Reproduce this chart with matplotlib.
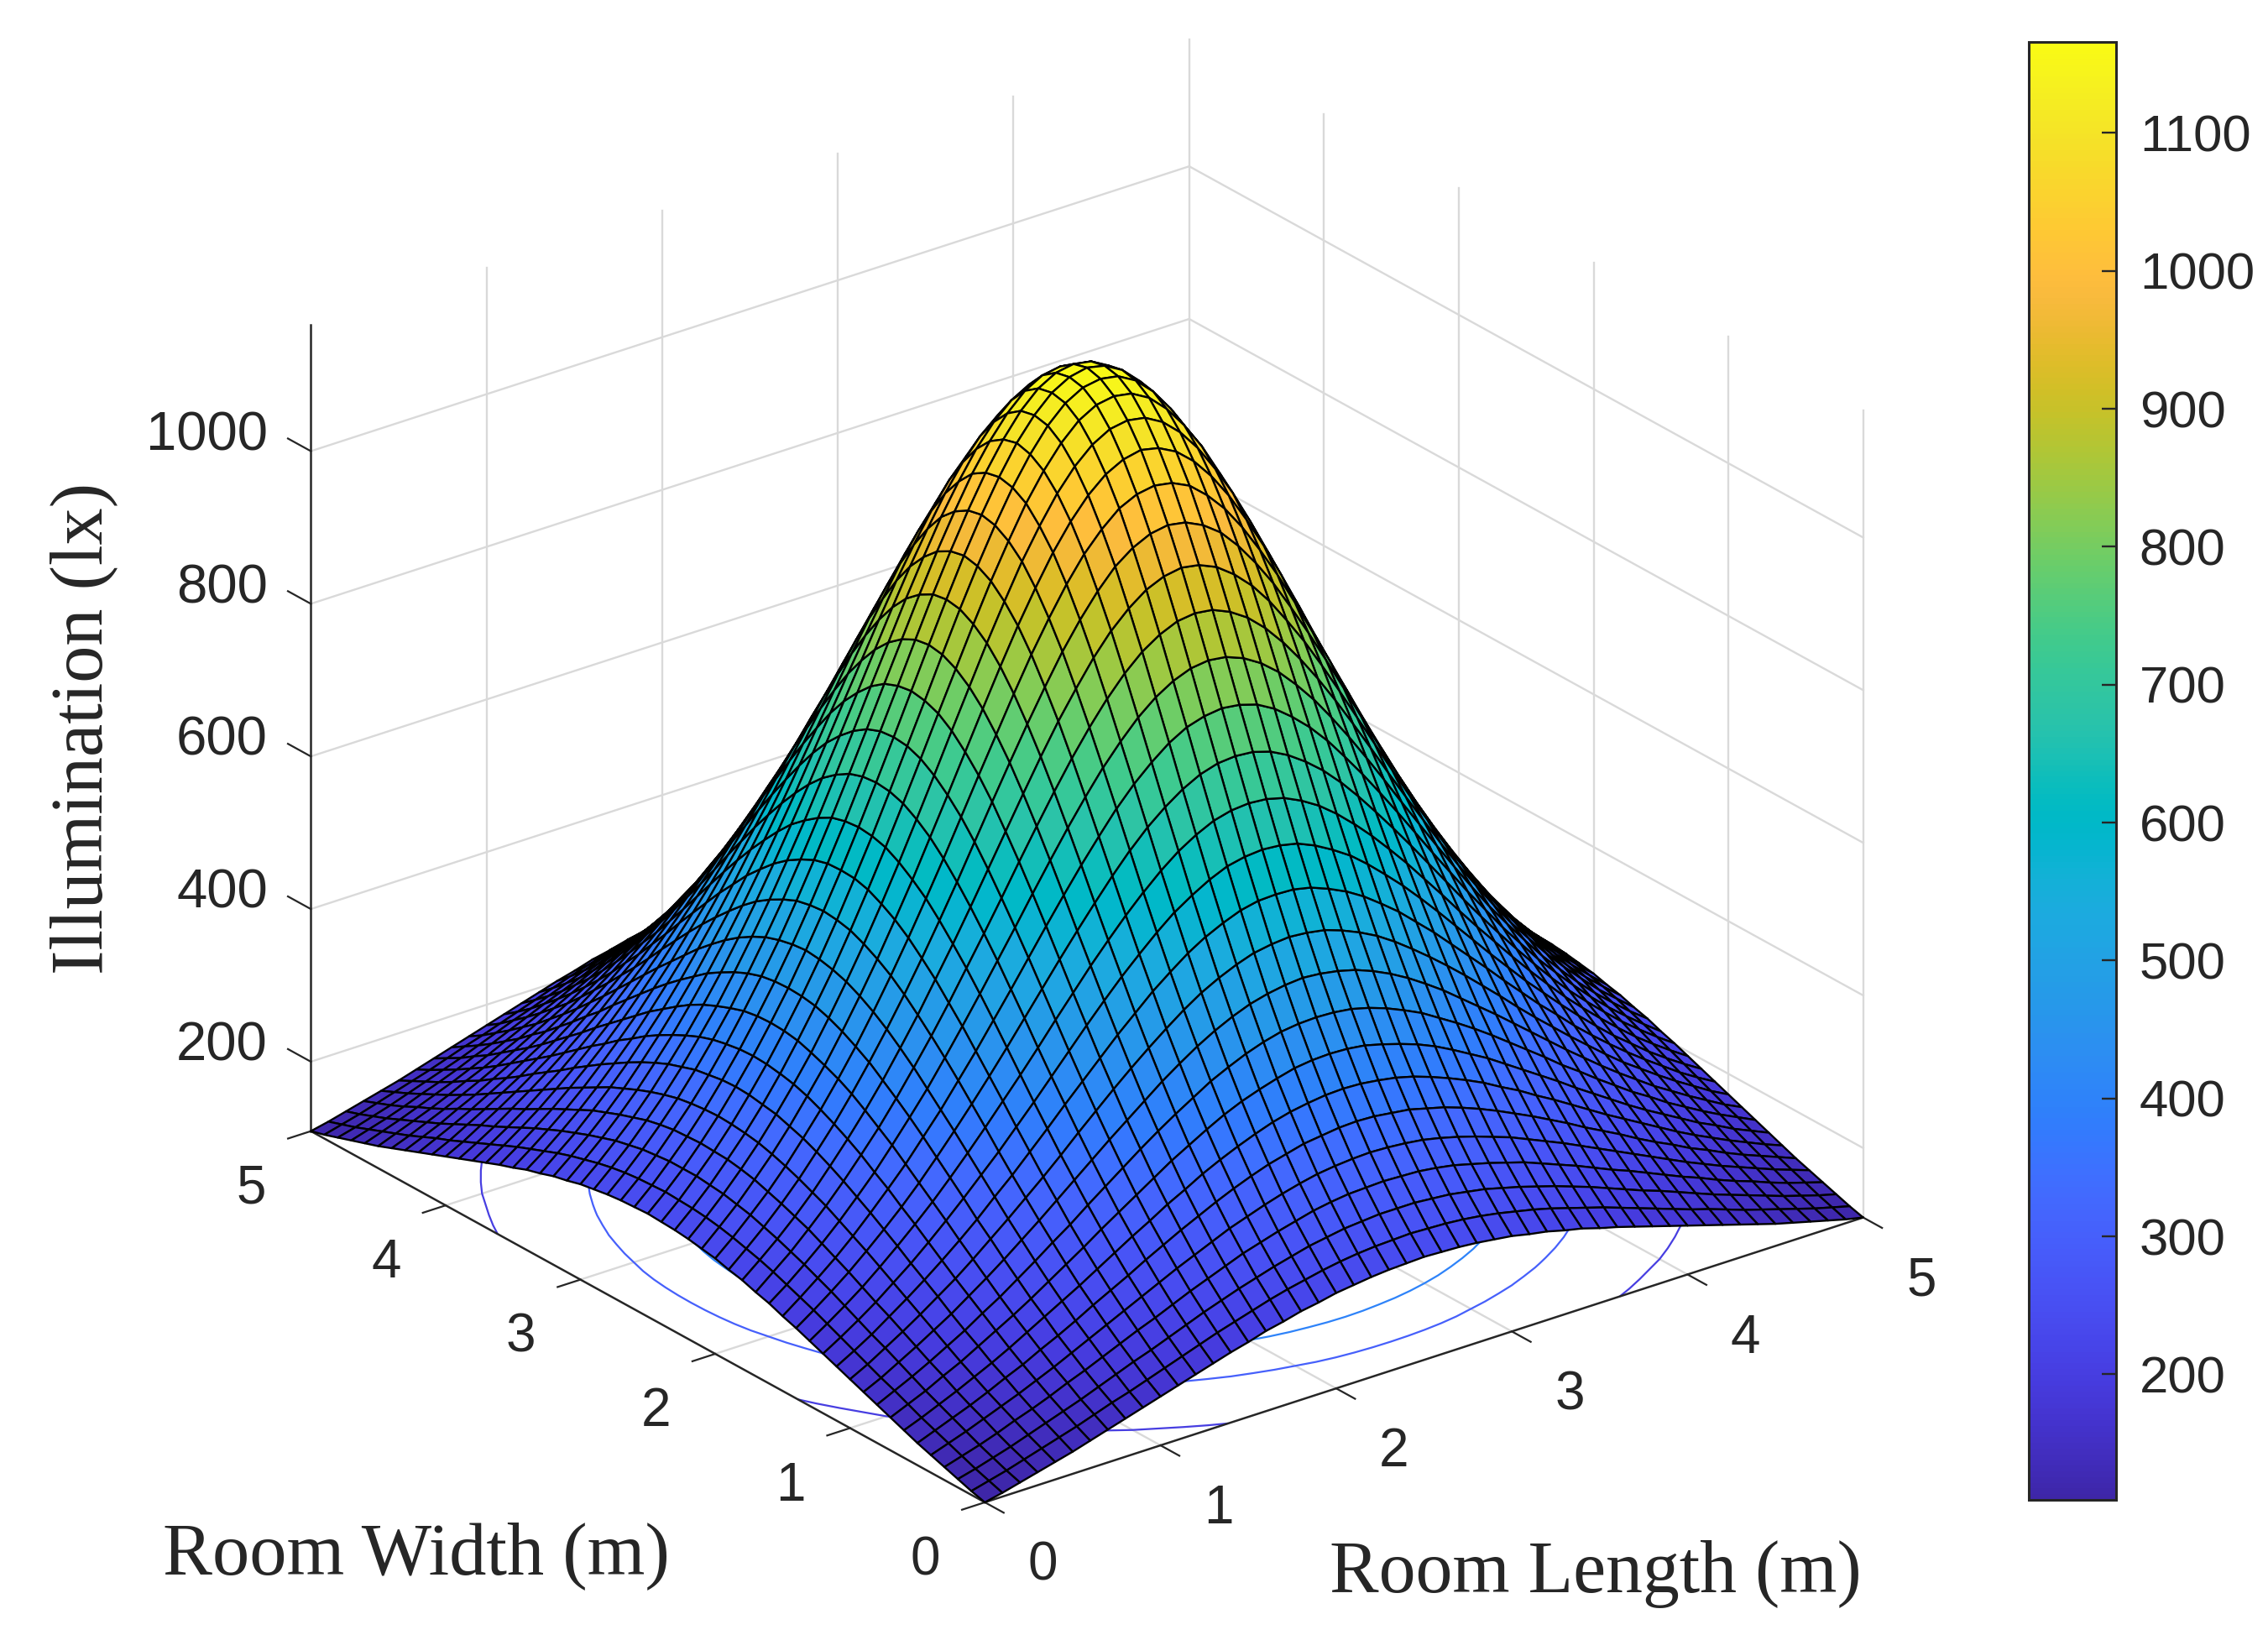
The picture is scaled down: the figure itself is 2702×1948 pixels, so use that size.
import numpy as np
from matplotlib import pyplot as plt
from matplotlib.cm import ScalarMappable
from matplotlib.colors import LinearSegmentedColormap, Normalize

# illumination in lx (silhouette, colours, floor arcs).
# The surface looks symmetric, so only one octant from the room centre is typed:
# row i holds the cells j = i..25, counted in 0.1 m steps from the centre.
octant_rows = [
    [1166, 1161, 1148, 1126, 1097, 1060, 1018, 972, 922, 870, 817, 764, 712, 661, 612, 566, 522, 480, 442, 406, 373, 342, 314, 288, 265, 244],
    [1157, 1144, 1122, 1092, 1056, 1014, 968, 919, 867, 814, 762, 710, 659, 611, 564, 520, 479, 441, 405, 372, 341, 313, 288, 264, 243],
    [1131, 1109, 1080, 1045, 1003, 958, 909, 858, 807, 755, 704, 654, 606, 560, 516, 476, 438, 402, 369, 339, 312, 286, 263, 242],
    [1088, 1060, 1025, 986, 941, 894, 844, 794, 743, 693, 644, 597, 552, 510, 470, 432, 398, 366, 336, 309, 284, 261, 240],
    [1033, 1000, 961, 919, 873, 825, 776, 727, 679, 631, 586, 542, 501, 462, 425, 392, 360, 331, 305, 280, 258, 237],
    [968, 931, 891, 847, 801, 755, 708, 661, 616, 572, 530, 490, 452, 417, 384, 354, 325, 299, 276, 254, 234],
    [897, 858, 817, 774, 730, 685, 640, 597, 555, 515, 477, 441, 407, 375, 346, 318, 293, 270, 249, 229],
    [823, 784, 743, 701, 659, 617, 576, 537, 498, 462, 427, 395, 365, 337, 310, 286, 264, 244, 225],
    [748, 710, 671, 631, 592, 554, 516, 480, 446, 413, 382, 354, 327, 302, 279, 257, 238, 219],
    [675, 639, 602, 566, 530, 495, 461, 428, 398, 369, 341, 316, 292, 270, 250, 231, 214],
    [606, 572, 538, 505, 472, 441, 410, 382, 354, 329, 305, 282, 261, 242, 224, 207],
    [541, 510, 479, 449, 420, 392, 365, 339, 315, 293, 272, 252, 234, 217, 201],
    [481, 453, 426, 399, 373, 348, 324, 302, 281, 261, 242, 225, 209, 194],
    [427, 402, 377, 354, 331, 309, 288, 268, 250, 232, 216, 201, 187],
    [379, 356, 335, 313, 293, 274, 256, 239, 223, 207, 193, 180],
    [336, 316, 297, 278, 260, 244, 228, 213, 199, 185, 173],
    [298, 280, 263, 247, 231, 217, 203, 190, 177, 166],
    [264, 248, 234, 219, 206, 193, 181, 170, 159],
    [234, 221, 208, 195, 184, 172, 162, 152],
    [208, 196, 185, 174, 164, 154, 145],
    [186, 175, 165, 156, 147, 138],
    [166, 157, 148, 140, 132],
    [148, 140, 133, 126],
    [133, 126, 120],
    [120, 114],
    [109],
]

room_ticks = [0, 1, 2, 3, 4, 5]
z_ticks = [200, 400, 600, 800, 1000]
cbar_ticks = [200, 300, 400, 500, 600, 700, 800, 900, 1000, 1100]
contour_levels = [200, 300, 400, 600, 800, 1000]
z_min = 109
z_max = 1166

parula_colors = [
    (0.2422, 0.1504, 0.6603), (0.2504, 0.1650, 0.7076), (0.2578, 0.1818, 0.7511), (0.2647, 0.1978, 0.7952),
    (0.2706, 0.2147, 0.8364), (0.2751, 0.2342, 0.8710), (0.2783, 0.2559, 0.8991), (0.2803, 0.2782, 0.9221),
    (0.2813, 0.3006, 0.9414), (0.2810, 0.3228, 0.9579), (0.2795, 0.3447, 0.9717), (0.2760, 0.3667, 0.9829),
    (0.2699, 0.3892, 0.9906), (0.2602, 0.4123, 0.9952), (0.2440, 0.4358, 0.9988), (0.2206, 0.4603, 0.9973),
    (0.1963, 0.4847, 0.9892), (0.1834, 0.5074, 0.9798), (0.1786, 0.5289, 0.9682), (0.1764, 0.5499, 0.9520),
    (0.1687, 0.5703, 0.9359), (0.1540, 0.5902, 0.9218), (0.1460, 0.6091, 0.9079), (0.1380, 0.6276, 0.8973),
    (0.1248, 0.6459, 0.8883), (0.1113, 0.6635, 0.8763), (0.0952, 0.6798, 0.8598), (0.0689, 0.6948, 0.8394),
    (0.0297, 0.7082, 0.8163), (0.0036, 0.7203, 0.7917), (0.0067, 0.7312, 0.7660), (0.0433, 0.7411, 0.7394),
    (0.0964, 0.7500, 0.7120), (0.1408, 0.7584, 0.6842), (0.1717, 0.7670, 0.6554), (0.1938, 0.7758, 0.6251),
    (0.2161, 0.7843, 0.5923), (0.2470, 0.7918, 0.5567), (0.2906, 0.7973, 0.5188), (0.3406, 0.8008, 0.4789),
    (0.3909, 0.8029, 0.4354), (0.4456, 0.8024, 0.3909), (0.5044, 0.7993, 0.3480), (0.5616, 0.7942, 0.3045),
    (0.6174, 0.7876, 0.2612), (0.6720, 0.7793, 0.2227), (0.7242, 0.7698, 0.1910), (0.7738, 0.7598, 0.1646),
    (0.8203, 0.7498, 0.1535), (0.8634, 0.7406, 0.1596), (0.9035, 0.7330, 0.1774), (0.9393, 0.7288, 0.2100),
    (0.9728, 0.7298, 0.2394), (0.9956, 0.7434, 0.2371), (0.9970, 0.7659, 0.2199), (0.9952, 0.7893, 0.2028),
    (0.9892, 0.8136, 0.1885), (0.9786, 0.8386, 0.1766), (0.9676, 0.8639, 0.1643), (0.9610, 0.8890, 0.1537),
    (0.9597, 0.9135, 0.1423), (0.9628, 0.9373, 0.1265), (0.9691, 0.9606, 0.1064), (0.9769, 0.9839, 0.0805),
]
parula = LinearSegmentedColormap.from_list('parula', parula_colors, N=256)

TEXT = '#262626'
GRID = '#d9d9d9'
W, H = 2702, 1948

# mirror the octant out to the whole 51 x 51 room
quadrant = np.zeros((26, 26))
for i, row in enumerate(octant_rows):
    for k, value in enumerate(row):
        quadrant[i, i + k] = value
        quadrant[i + k, i] = value
offset = np.abs(np.arange(-25, 26))
illum = quadrant[offset[:, None], offset]
room = np.linspace(0, 5, 51)
X, Y = np.meshgrid(room, room)
norm = Normalize(z_min, z_max)

fig = plt.figure(figsize=(W / 100, H / 100), dpi=100)
ax = fig.add_axes([268 / W, 2.4 / H, 2000 / W, 2000 / H], projection='3d', computed_zorder=False)
ax.set_proj_type('ortho')
ax.view_init(elev=25, azim=-127.5)
ax.set_box_aspect((1, 1, 0.804), zoom=1.0415)
ax.set_axis_off()

# back walls and floor grid
for t in room_ticks:
    if t > 0:
        ax.plot([t, t], [5, 5], [z_min, z_max], color=GRID, lw=1.7, zorder=1)
    if t < 5:
        ax.plot([5, 5], [t, t], [z_min, z_max], color=GRID, lw=1.7, zorder=1)
    if 0 < t < 5:
        ax.plot([t, t], [0, 5], [z_min, z_min], color=GRID, lw=1.7, zorder=1)
        ax.plot([0, 5], [t, t], [z_min, z_min], color=GRID, lw=1.7, zorder=1)
for z in z_ticks:
    ax.plot([0, 5], [5, 5], [z, z], color=GRID, lw=1.7, zorder=1)
    ax.plot([5, 5], [0, 5], [z, z], color=GRID, lw=1.7, zorder=1)

ax.contour(X, Y, illum, levels=contour_levels, zdir='z', offset=z_min, cmap=parula, norm=norm,
           linewidths=1.6, zorder=2)

# axis lines, ticks and tick labels
for xs, ys, zs in [([0, 5], [0, 0], [z_min, z_min]), ([0, 0], [0, 5], [z_min, z_min]), ([0, 0], [5, 5], [z_min, z_max])]:
    ax.plot(xs, ys, zs, color=TEXT, lw=1.8, zorder=2.5)
for t in room_ticks:
    ax.plot([t, t], [0, -0.14], [z_min, z_min], color=TEXT, lw=1.6, zorder=2.5)
    ax.plot([0, -0.13], [t, t], [z_min, z_min], color=TEXT, lw=1.6, zorder=2.5)
    ax.text(t - 0.168, -0.649, z_min - 8, str(t), color=TEXT, family='Liberation Sans', fontsize=46, ha='center', va='center')
    ax.text(-0.551, t - 0.278, z_min - 8, str(t), color=TEXT, family='Liberation Sans', fontsize=46, ha='center', va='center')
for z in z_ticks:
    ax.plot([0, 0], [5, 5.17], [z, z], color=TEXT, lw=1.6, zorder=2.5)
    ax.text(0, 5.32, z - 11, str(z), color=TEXT, family='Liberation Sans', fontsize=47, ha='right', va='center')

# facets take the colour of their first corner, not the mean of the four
ax.plot_surface(X, Y, illum, rstride=1, cstride=1, facecolors=parula(norm(illum)), shade=False,
                edgecolor='black', linewidth=1.7, antialiased=True, zorder=3)

ax.set_xlim(0, 5)
ax.set_ylim(0, 5)
ax.set_zlim(z_min, z_max)

fig.text(496 / W, 1 - 1854 / H, 'Room Width (m)', family='Liberation Serif', fontsize=63.6, color=TEXT, ha='center', va='center')
fig.text(1901 / W, 1 - 1876 / H, 'Room Length (m)', family='Liberation Serif', fontsize=63.2, color=TEXT, ha='center', va='center')
fig.text(100 / W, 1 - 868 / H, 'Illumination (lx)', family='Liberation Serif', fontsize=63.5, color=TEXT, ha='center', va='center', rotation=90)

cax = fig.add_axes([2417 / W, 1 - 1787 / H, 104 / W, 1737 / H])
cb = fig.colorbar(ScalarMappable(norm=norm, cmap=parula), cax=cax)
cb.set_ticks(cbar_ticks)
cb.outline.set_linewidth(2.2)
cb.outline.set_edgecolor(TEXT)
cax.tick_params(direction='in', length=12, width=1.7, color=TEXT, labelcolor=TEXT, labelsize=44.5, pad=20)
for label in cax.get_yticklabels():
    label.set_family('Liberation Sans')

fig.savefig('out.png', dpi=100)
